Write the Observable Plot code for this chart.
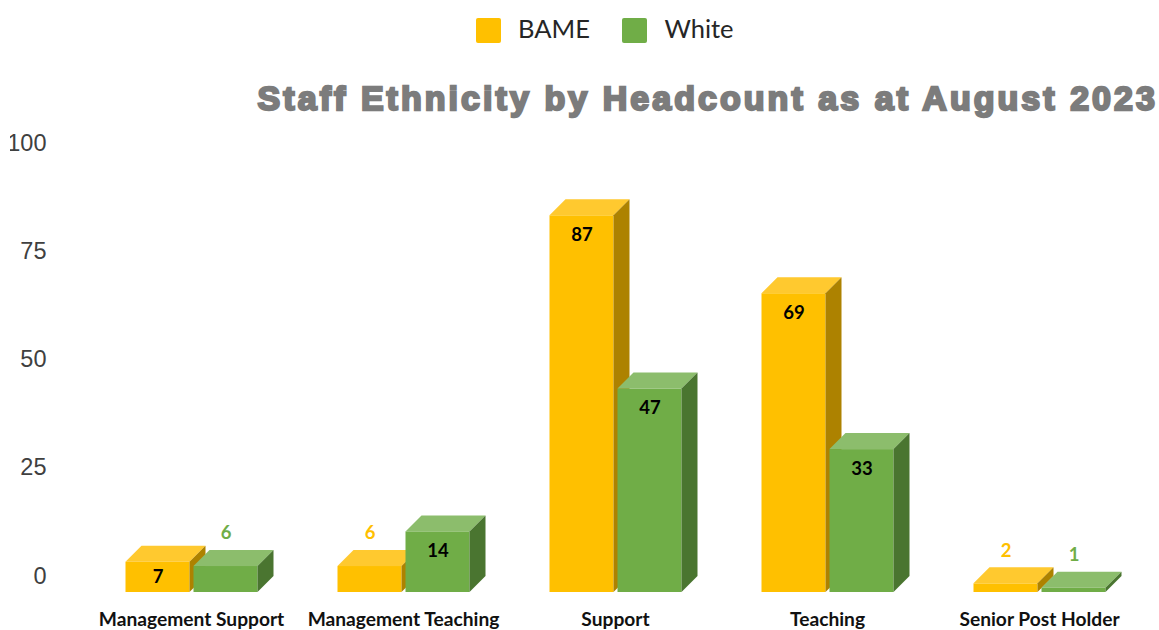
<!DOCTYPE html>
<html>
<head>
<meta charset="utf-8">
<script src="https://cdn.jsdelivr.net/npm/d3@7"></script>
<script src="https://cdn.jsdelivr.net/npm/@observablehq/plot@0.6"></script>
<style>
  html, body { margin: 0; padding: 0; background: #fff; overflow: hidden; }
  #page { position: relative; width: 1159px; height: 630px; overflow: hidden; }
  #head { position: relative; height: 125px; }
  .legend { position: absolute; top: 18px; left: 476px; display: flex; align-items: center;
            font: 25.5px Lato, "Open Sans", sans-serif; color: #262626; }
  .swatch { width: 25px; height: 25px; border-radius: 2px; display: inline-block; }
  .legend span.label { margin: 0 32.5px 0 17px; line-height: 25px; position: relative; top: -2px; }
  h1 { position: absolute; right: 1px; top: 78px; margin: 0; white-space: nowrap;
       font: bold 34px "Liberation Sans", Arial, sans-serif; color: #7c7c7c;
       letter-spacing: 3.05px; -webkit-text-stroke: 2.3px #7c7c7c; line-height: 40px; }
  svg { display: block; clip-path: inset(0 0 0 10px); }
</style>
</head>
<body>
<div id="page">
  <div id="head">
    <div class="legend" id="legend"></div>
    <h1>Staff Ethnicity by Headcount as at August 2023</h1>
  </div>
  <div id="chart"></div>
</div>
<script>
const categories = ["Management Support", "Management Teaching", "Support", "Teaching", "Senior Post Holder"];
const series = ["BAME", "White"];
const bame = [7, 6, 87, 69, 2];
const white = [6, 14, 47, 33, 1];
const yTicks = [0, 25, 50, 75, 100];

// Faces of each colour: front, top, side.
const palette = {
  BAME: {front: "#FFC000", top: "#FFC92F", side: "#AD8200", text: "#FFC000"},
  White: {front: "#70AD47", top: "#8CBD6C", side: "#4A7530", text: "#70AD47"}
};
const depth = 16;

const rows = categories.flatMap((category, i) => [
  {category, series: "BAME", value: bame[i]},
  {category, series: "White", value: white[i]}
]);

// Labels sit inside a bar unless it is too short to hold one.
const tall = rows.filter((d) => d.value > 7);
const shortInside = rows.filter((d) => d.value === 7);
const outside = rows.filter((d) => d.value < 7);

// Extrudes each bar by adding a top and a side face next to the rect Plot drew.
function extrude(index, scales, values, dimensions, context, next) {
  const g = next(index, scales, values, dimensions, context);
  const ordered = Array.from(index, (i) => rows[i]);
  d3.select(g).selectAll("rect").each(function (_, n) {
    const r = d3.select(this);
    const x = +r.attr("x"), y = +r.attr("y"), w = +r.attr("width"), h = +r.attr("height");
    const colors = palette[ordered[n].series];
    const after = this.nextSibling;
    const add = (d, fill) => {
      const p = document.createElementNS("http://www.w3.org/2000/svg", "path");
      p.setAttribute("d", d);
      p.setAttribute("fill", fill);
      g.insertBefore(p, after);
    };
    add(`M${x},${y}l${depth},${-depth}h${w}l${-depth},${depth}z`, colors.top);
    add(`M${x + w},${y}l${depth},${-depth}v${h}l${-depth},${depth}z`, colors.side);
  });
  return g;
}

const sharedFont = {fontFamily: "Lato, 'Open Sans', sans-serif", fontWeight: 700, fill: "#000"};

const chart = Plot.plot({
  width: 1159,
  height: 505,
  marginLeft: 85.5,
  marginRight: 13.5,
  marginTop: 34,
  marginBottom: 38,
  style: {background: "transparent", overflow: "visible"},
  fx: {domain: categories, paddingInner: 0.377, paddingOuter: 0.1885, label: null},
  x: {domain: series, paddingInner: 0.06, paddingOuter: 0, axis: null, label: null},
  y: {domain: [0, 100], label: null},
  color: {domain: series, range: series.map((s) => palette[s].front)},
  marks: [
    Plot.axisY({
      ticks: yTicks, tickSize: 0, tickFormat: (d) => String(d), label: null,
      anchor: "left", dx: -70, dy: -16.5, fontSize: 23.5,
      fontFamily: "'Liberation Sans', Arial, sans-serif", fill: "#404040"
    }),
    Plot.axisFx({
      anchor: "bottom", tickSize: 0, tickPadding: 20, label: null, lineWidth: 30,
      fontSize: 19.2, ...sharedFont, fill: "#111"
    }),
    Plot.barY(rows, {
      fx: "category", x: "series", y: "value", fill: "series", render: extrude
    }),
    Plot.text(tall, {
      fx: "category", x: "series", y: "value", text: "value", dy: 19, fontSize: 18.5, ...sharedFont
    }),
    Plot.text(shortInside, {
      fx: "category", x: "series", y: "value", text: "value", dy: 14.5, fontSize: 18.5, ...sharedFont
    }),
    Plot.text(outside, {
      fx: "category", x: "series", y: "value", text: "value", dy: -33, fontSize: 18.5,
      fontFamily: sharedFont.fontFamily, fontWeight: 700,
      fill: (d) => palette[d.series].text
    })
  ]
});
document.getElementById("chart").appendChild(chart);

const legend = document.getElementById("legend");
for (const s of series) {
  const sw = document.createElement("span");
  sw.className = "swatch";
  sw.style.background = palette[s].front;
  const lab = document.createElement("span");
  lab.className = "label";
  lab.textContent = s;
  legend.append(sw, lab);
}
</script>
</body>
</html>
